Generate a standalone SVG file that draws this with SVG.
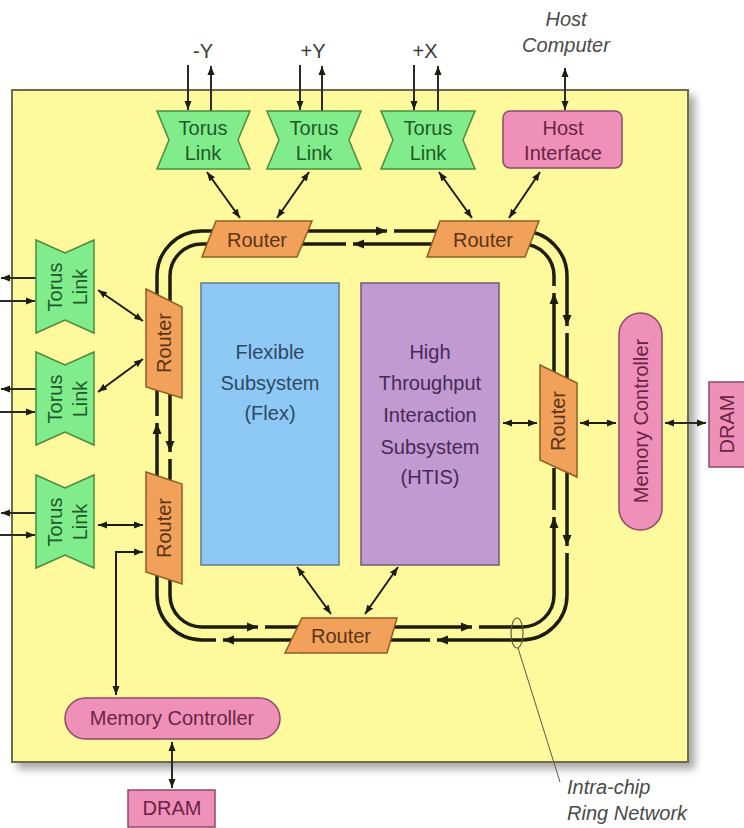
<svg xmlns="http://www.w3.org/2000/svg" width="744" height="828" viewBox="0 0 744 828">
<defs>
  <filter id="shadow" x="-5%" y="-5%" width="115%" height="115%">
    <feGaussianBlur in="SourceAlpha" stdDeviation="4"/>
    <feOffset dx="6" dy="6" result="b"/>
    <feComponentTransfer><feFuncA type="linear" slope="0.35"/></feComponentTransfer>
    <feMerge><feMergeNode/><feMergeNode in="SourceGraphic"/></feMerge>
  </filter>
  <marker id="ah" markerUnits="userSpaceOnUse" markerWidth="12" markerHeight="10" refX="11" refY="5" orient="auto-start-reverse">
    <path d="M0,0.5 L11,5 L0,9.5 z" fill="#1d1d0c"/>
  </marker>
  <marker id="sh" markerUnits="userSpaceOnUse" markerWidth="10" markerHeight="8" refX="9" refY="4" orient="auto-start-reverse">
    <path d="M0,0.5 L9,4 L0,7.5 z" fill="#1d1d0c"/>
  </marker>
</defs>
<style>
  text { font-family: "Liberation Sans", Arial, sans-serif; font-size: 20px; text-anchor: middle; }
  .torus { fill: #80ec8c; stroke: #4d8a3c; stroke-width: 1.5; }
  .torus-t { fill: #1f5a28; }
  .router { fill: #f1a15a; stroke: #8f5d24; stroke-width: 1.5; }
  .router-t { fill: #5a3414; }
  .pink { fill: #ef90b9; stroke: #8c4a68; stroke-width: 1.5; }
  .pink-t { fill: #6a2442; }
  .lbl { fill: #3a3a3a; }
  .ital { fill: #4a4a4a; font-style: italic; }
  .ring { fill: none; stroke: #1d1d0c; stroke-width: 3.5; }
  .conn { fill: none; stroke: #1d1d0c; stroke-width: 2; }
  .thin { fill: none; stroke: #2a2a2a; stroke-width: 2; }
</style>

<!-- chip -->
<g id="chip">
  <rect x="12" y="90" width="676" height="672" fill="#fff99d" stroke="#6e6d4c" stroke-width="2" filter="url(#shadow)"/>
</g>

<!-- external labels -->
<g id="label-minusY"><text class="lbl" x="203" y="58">-Y</text></g>
<g id="label-plusY"><text class="lbl" x="313" y="58">+Y</text></g>
<g id="label-plusX"><text class="lbl" x="425" y="58">+X</text></g>
<g id="label-host"><text class="ital" x="566" y="26">Host</text><text class="ital" x="566" y="52">Computer</text></g>

<!-- connectors -->
<g id="connectors">
  <!-- ring: outer (clockwise) -->
  <path class="ring" d="M300 231 H387" marker-end="url(#ah)"/>
  <path class="ring" d="M394 231 H445"/>
  <path class="ring" d="M530 231 H522 A45 45 0 0 1 567 276 V326" marker-end="url(#ah)"/>
  <path class="ring" d="M567 333 V385"/>
  <path class="ring" d="M567 470 V546" marker-end="url(#ah)"/>
  <path class="ring" d="M567 553 V595 A45 45 0 0 1 522 640 H437" marker-end="url(#ah)"/>
  <path class="ring" d="M430 640 H385"/>
  <path class="ring" d="M292 640 H223" marker-end="url(#ah)"/>
  <path class="ring" d="M216 640 H202 A45 45 0 0 1 157 595 V570"/>
  <path class="ring" d="M157 478 V423" marker-end="url(#ah)"/>
  <path class="ring" d="M157 416 V390"/>
  <path class="ring" d="M157 295 V276 A45 45 0 0 1 202 231 H225"/>
  <!-- ring: inner (counter-clockwise) -->
  <path class="ring" d="M435 244 H353" marker-end="url(#ah)"/>
  <path class="ring" d="M346 244 H300"/>
  <path class="ring" d="M215 244 H202 A32 32 0 0 0 170 276 V305"/>
  <path class="ring" d="M170 392 V452" marker-end="url(#ah)"/>
  <path class="ring" d="M170 459 V482"/>
  <path class="ring" d="M170 575 V595 A32 32 0 0 0 202 627 H258" marker-end="url(#ah)"/>
  <path class="ring" d="M265 627 H300"/>
  <path class="ring" d="M390 627 H472" marker-end="url(#ah)"/>
  <path class="ring" d="M479 627 H522 A32 32 0 0 0 554 595 V517" marker-end="url(#ah)"/>
  <path class="ring" d="M554 510 V468"/>
  <path class="ring" d="M554 372 V293" marker-end="url(#ah)"/>
  <path class="ring" d="M554 286 V276 A32 32 0 0 0 522 244 H515"/>

  <!-- top external links -->
  <path class="thin" d="M188 65 V110" marker-end="url(#sh)"/>
  <path class="thin" d="M211 111 V66" marker-end="url(#sh)"/>
  <path class="thin" d="M300 65 V110" marker-end="url(#sh)"/>
  <path class="thin" d="M322 111 V66" marker-end="url(#sh)"/>
  <path class="thin" d="M414 65 V110" marker-end="url(#sh)"/>
  <path class="thin" d="M438 111 V66" marker-end="url(#sh)"/>
  <path class="thin" d="M565 68 V110" marker-start="url(#sh)" marker-end="url(#sh)"/>

  <!-- top links to routers -->
  <path class="conn" d="M207 172 L240 218" marker-start="url(#sh)" marker-end="url(#sh)"/>
  <path class="conn" d="M309 172 L277 218" marker-start="url(#sh)" marker-end="url(#sh)"/>
  <path class="conn" d="M439 172 L472 218" marker-start="url(#sh)" marker-end="url(#sh)"/>
  <path class="conn" d="M540 172 L509 218" marker-start="url(#sh)" marker-end="url(#sh)"/>

  <!-- left external links -->
  <path class="thin" d="M36 278 H1" marker-end="url(#sh)"/>
  <path class="thin" d="M0 301 H35" marker-end="url(#sh)"/>
  <path class="thin" d="M36 389 H1" marker-end="url(#sh)"/>
  <path class="thin" d="M0 412 H35" marker-end="url(#sh)"/>
  <path class="thin" d="M36 513 H1" marker-end="url(#sh)"/>
  <path class="thin" d="M0 535 H35" marker-end="url(#sh)"/>

  <!-- left links to routers -->
  <path class="conn" d="M98 290 L143 321" marker-start="url(#sh)" marker-end="url(#sh)"/>
  <path class="conn" d="M98 392 L143 359" marker-start="url(#sh)" marker-end="url(#sh)"/>
  <path class="conn" d="M98 525 H143" marker-start="url(#sh)" marker-end="url(#sh)"/>

  <!-- router L2 to bottom memory controller -->
  <path class="conn" d="M116 695 V552 H143" marker-start="url(#sh)" marker-end="url(#sh)"/>
  <!-- memory controller to DRAM (bottom) -->
  <path class="thin" d="M172 742 V788" marker-start="url(#sh)" marker-end="url(#sh)"/>

  <!-- subsystems to bottom router -->
  <path class="conn" d="M297 567 L331 614" marker-start="url(#sh)" marker-end="url(#sh)"/>
  <path class="conn" d="M398 567 L365 614" marker-start="url(#sh)" marker-end="url(#sh)"/>

  <!-- right side -->
  <path class="conn" d="M503 423 H537" marker-start="url(#sh)" marker-end="url(#sh)"/>
  <path class="conn" d="M580 423 H616" marker-start="url(#sh)" marker-end="url(#sh)"/>
  <path class="thin" d="M665 423 H706" marker-start="url(#sh)" marker-end="url(#sh)"/>

  <!-- ring network callout -->
  <ellipse cx="517" cy="633" rx="6" ry="15" fill="none" stroke="#5a5a40" stroke-width="1.2"/>
  <path d="M518 648 L560 782" fill="none" stroke="#5a5a48" stroke-width="1"/>
</g>

<!-- top torus links -->
<g id="torus-minusY">
  <path class="torus" d="M157 111 H250 L238 140 L250 169 H157 L169 140 Z"/>
  <text class="torus-t" x="203" y="135">Torus</text><text class="torus-t" x="203" y="160">Link</text>
</g>
<g id="torus-plusY">
  <path class="torus" d="M267 111 H361 L349 140 L361 169 H267 L279 140 Z"/>
  <text class="torus-t" x="314" y="135">Torus</text><text class="torus-t" x="314" y="160">Link</text>
</g>
<g id="torus-plusX">
  <path class="torus" d="M381 111 H475 L463 140 L475 169 H381 L393 140 Z"/>
  <text class="torus-t" x="428" y="135">Torus</text><text class="torus-t" x="428" y="160">Link</text>
</g>
<g id="host-interface">
  <rect class="pink" x="503" y="111" width="119" height="57" rx="7"/>
  <text class="pink-t" x="563" y="135">Host</text><text class="pink-t" x="563" y="160">Interface</text>
</g>

<!-- left torus links -->
<g id="torus-left-1">
  <path class="torus" d="M36 240 L65 253 L94 240 V333 L65 320 L36 333 Z"/>
  <text class="torus-t" transform="translate(66,287) rotate(-90)"><tspan x="0" y="-4">Torus</tspan><tspan x="0" y="21">Link</tspan></text>
</g>
<g id="torus-left-2">
  <path class="torus" d="M36 352 L65 365 L94 352 V445 L65 432 L36 445 Z"/>
  <text class="torus-t" transform="translate(66,399) rotate(-90)"><tspan x="0" y="-4">Torus</tspan><tspan x="0" y="21">Link</tspan></text>
</g>
<g id="torus-left-3">
  <path class="torus" d="M36 475 L65 488 L94 475 V568 L65 555 L36 568 Z"/>
  <text class="torus-t" transform="translate(66,522) rotate(-90)"><tspan x="0" y="-4">Torus</tspan><tspan x="0" y="21">Link</tspan></text>
</g>

<!-- routers -->
<g id="router-top-1">
  <path class="router" d="M216 221 H312 L297 257 H202 Z"/>
  <text class="router-t" x="257" y="247">Router</text>
</g>
<g id="router-top-2">
  <path class="router" d="M440 221 H539 L525 257 H427 Z"/>
  <text class="router-t" x="483" y="247">Router</text>
</g>
<g id="router-left-1">
  <path class="router" d="M146 289 L182 307 V398 L146 387 Z"/>
  <text class="router-t" transform="translate(164,343) rotate(-90)" x="0" y="7">Router</text>
</g>
<g id="router-left-2">
  <path class="router" d="M146 472 L182 484 V584 L146 572 Z"/>
  <text class="router-t" transform="translate(164,528) rotate(-90)" x="0" y="7">Router</text>
</g>
<g id="router-right">
  <path class="router" d="M540 365 L577 383 V477 L540 460 Z"/>
  <text class="router-t" transform="translate(558,421) rotate(-90)" x="0" y="7">Router</text>
</g>
<g id="router-bottom">
  <path class="router" d="M302 618 H397 L387 653 H285 Z"/>
  <text class="router-t" x="341" y="643">Router</text>
</g>

<!-- subsystems -->
<g id="flex">
  <rect x="201" y="283" width="138" height="282" fill="#8ec8f5" stroke="#5f7c8c" stroke-width="1.5"/>
  <text fill="#2c4a66" font-size="21" x="270" y="359">Flexible</text>
  <text fill="#2c4a66" font-size="21" x="270" y="390">Subsystem</text>
  <text fill="#2c4a66" font-size="21" x="270" y="420">(Flex)</text>
</g>
<g id="htis">
  <rect x="361" y="283" width="138" height="282" fill="#c09ad1" stroke="#6c5a7c" stroke-width="1.5"/>
  <text fill="#4a2858" font-size="21" x="430" y="359">High</text>
  <text fill="#4a2858" font-size="21" x="430" y="390">Throughput</text>
  <text fill="#4a2858" font-size="21" x="430" y="422">Interaction</text>
  <text fill="#4a2858" font-size="21" x="430" y="454">Subsystem</text>
  <text fill="#4a2858" font-size="21" x="430" y="484">(HTIS)</text>
</g>

<!-- memory controllers and DRAM -->
<g id="memctrl-right">
  <rect class="pink" x="619" y="313" width="43" height="217" rx="21.5"/>
  <text class="pink-t" transform="translate(641,421) rotate(-90)" x="0" y="7">Memory Controller</text>
</g>
<g id="dram-right">
  <rect class="pink" x="709" y="382" width="38" height="85"/>
  <text class="pink-t" transform="translate(727,424) rotate(-90)" x="0" y="7">DRAM</text>
</g>
<g id="memctrl-bottom">
  <rect class="pink" x="65" y="698" width="215" height="41" rx="20.5"/>
  <text class="pink-t" x="172" y="725">Memory Controller</text>
</g>
<g id="dram-bottom">
  <rect class="pink" x="128" y="790" width="87" height="37"/>
  <text class="pink-t" x="172" y="815">DRAM</text>
</g>

<!-- ring network label -->
<g id="label-ring">
  <text class="ital" style="text-anchor:start" x="567" y="794">Intra-chip</text>
  <text class="ital" style="text-anchor:start" x="567" y="820">Ring Network</text>
</g>
</svg>
